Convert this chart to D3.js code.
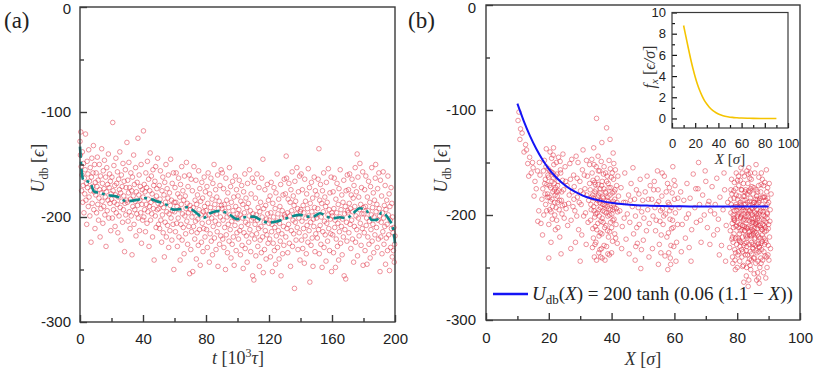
<!DOCTYPE html>
<html><head><meta charset="utf-8">
<script src="https://cdn.jsdelivr.net/npm/d3@7"></script>
<style>body{margin:0;background:#fff}svg{display:block}</style>
</head><body>
<svg id="c" width="830" height="378"></svg>
<script>
// ---------- DATA ----------
// Panel (a): U_db samples, evenly spaced in time over [0,200] (10^3 tau)
const scatterA_tRange = [0, 200];
const scatterA_U = [
-128,-141,-119,-152,-175,-160,-138,-186,-170,-149,-196,-163,-178,-155,-121,-184,-168,-207,-147,-172,-159,-190,-136,-181,-166,-199,-153,-175,-224,-162,-144,-187,-171,-158,-132,-193,-176,-150,-211,-167,
-179,-158,-196,-171,-143,-188,-165,-203,-182,-150,-174,-219,-161,-192,-177,-135,-185,-168,-206,-156,-190,-173,-146,-198,-181,-162,-228,-176,-153,-194,-169,-184,-140,-201,-172,-159,-187,-166,-213,-178,
-183,-162,-201,-110,-175,-193,-151,-186,-170,-209,-179,-144,-196,-168,-188,-157,-215,-181,-164,-199,-174,-138,-191,-177,-222,-160,-185,-171,-205,-149,-193,-180,-166,-233,-187,-155,-198,-172,-184,-129,
-186,-165,-204,-177,-148,-195,-172,-211,-183,-158,-199,-175,-236,-162,-190,-180,-141,-207,-169,-193,-185,-153,-218,-176,-197,-167,-189,-125,-201,-179,-160,-213,-184,-171,-196,-150,-225,-188,-174,-203,
-181,-118,-200,-169,-193,-176,-214,-158,-188,-172,-206,-147,-195,-183,-164,-228,-190,-175,-139,-203,-186,-161,-197,-178,-219,-155,-192,-170,-241,-184,-166,-199,-152,-210,-180,-173,-193,-144,-187,-207,
-192,-170,-211,-183,-156,-203,-188,-224,-175,-198,-162,-215,-191,-179,-238,-167,-205,-186,-150,-219,-195,-173,-208,-182,-160,-229,-197,-177,-213,-189,-145,-201,-184,-222,-168,-194,-207,-158,-250,-186,
-195,-172,-214,-186,-158,-206,-190,-228,-178,-201,-163,-219,-193,-181,-241,-169,-207,-188,-152,-222,-197,-175,-210,-184,-235,-161,-199,-180,-216,-192,-148,-204,-187,-226,-171,-196,-209,-160,-254,-189,
-193,-231,-164,-214,-200,-175,-252,-191,-209,-152,-196,-221,-184,-204,-165,-240,-188,-215,-179,-202,-227,-156,-193,-212,-173,-246,-185,-198,-224,-167,-206,-182,-233,-195,-211,-162,-190,-219,-176,-199,
-194,-212,-171,-229,-187,-158,-205,-198,-243,-178,-216,-191,-163,-223,-201,-183,-236,-168,-209,-195,-150,-220,-188,-204,-174,-231,-197,-181,-214,-160,-247,-192,-207,-185,-226,-170,-200,-218,-155,-189,
-192,-158,-221,-203,-173,-229,-188,-210,-195,-250,-163,-217,-184,-200,-234,-177,-207,-191,-223,-153,-198,-212,-171,-239,-186,-204,-226,-166,-194,-219,-181,-246,-201,-208,-161,-190,-232,-174,-215,-197,
-202,-180,-221,-193,-165,-213,-198,-236,-185,-209,-170,-227,-201,-188,-249,-176,-215,-196,-159,-230,-205,-182,-218,-191,-243,-168,-207,-187,-224,-199,-155,-212,-194,-233,-178,-203,-217,-163,-256,-197,
-201,-260,-167,-221,-207,-182,-237,-198,-216,-159,-203,-228,-191,-211,-172,-247,-195,-222,-186,-209,-234,-163,-200,-219,-145,-253,-192,-205,-231,-174,-213,-189,-240,-202,-217,-169,-197,-225,-184,-206,
-203,-221,-180,-238,-196,-167,-214,-207,-252,-187,-225,-200,-172,-232,-210,-192,-245,-177,-218,-204,-159,-229,-197,-213,-183,-240,-206,-190,-223,-169,-256,-201,-216,-194,-235,-179,-209,-227,-164,-198,
-200,-178,-219,-142,-163,-211,-196,-234,-183,-207,-168,-225,-199,-186,-247,-174,-213,-194,-157,-228,-203,-180,-216,-189,-268,-166,-205,-185,-222,-197,-153,-210,-192,-231,-176,-201,-215,-161,-241,-195,
-193,-159,-222,-204,-174,-230,-189,-211,-196,-244,-164,-218,-185,-201,-235,-178,-208,-192,-224,-154,-199,-213,-172,-262,-187,-205,-227,-167,-195,-220,-182,-247,-202,-209,-162,-191,-233,-175,-216,-198,
-201,-179,-220,-192,-164,-212,-135,-235,-184,-208,-169,-226,-200,-187,-248,-175,-214,-195,-158,-229,-204,-181,-217,-190,-242,-167,-206,-186,-223,-198,-154,-211,-193,-232,-177,-202,-216,-162,-252,-196,
-199,-217,-176,-234,-192,-163,-210,-203,-248,-183,-221,-196,-168,-228,-206,-188,-241,-173,-214,-200,-155,-225,-193,-209,-179,-236,-202,-186,-219,-165,-256,-197,-212,-190,-259,-175,-205,-223,-160,-194,
-196,-174,-215,-187,-159,-207,-192,-230,-179,-203,-164,-221,-195,-182,-243,-170,-209,-190,-153,-224,-199,-176,-212,-140,-237,-162,-201,-181,-218,-193,-149,-206,-188,-227,-172,-197,-211,-157,-246,-191,
-197,-215,-174,-232,-190,-161,-208,-201,-245,-181,-219,-194,-166,-226,-204,-186,-239,-171,-212,-198,-153,-223,-191,-207,-177,-234,-200,-184,-217,-163,-150,-195,-210,-188,-229,-173,-203,-221,-158,-192,
-199,-252,-165,-219,-205,-180,-235,-196,-214,-157,-201,-226,-189,-209,-170,-245,-193,-220,-184,-207,-232,-161,-198,-217,-178,-251,-190,-203,-229,-172,-211,-187,-238,-200,-215,-232,-210,-243,-226,-218
];
// Panel (a): running mean (dashed)
const meanA_t = [0,1,2.1,6.3,9.1,12.7,16.9,23.3,29.6,36,42.3,48.7,55,59.3,63.5,67.7,74.1,78.3,82.5,88.9,95.2,99.5,103.7,110,116.4,120.6,124.9,131.2,135.4,139.7,143.9,148.1,152.4,156.6,160.8,165,169.3,173.5,177.7,182,185.2,188.3,191.5,195.7,198.9,200];
const meanA_U = [-133,-155,-165,-167,-176,-177,-179,-180.5,-185,-183.7,-182,-185,-188.5,-193,-192.6,-190.7,-196.4,-201,-196.4,-194.2,-198,-202,-200.5,-199.6,-204.3,-205.3,-204.3,-201.2,-199,-198,-199.6,-199.6,-196.4,-199.6,-201.2,-200.2,-201.2,-196.4,-191.6,-194,-202.8,-202.8,-195.8,-201.2,-212,-225];

// Panel (b): scatter [X, U_db]
const scatterB = [
[10.2,-110],[10.8,-128],[11.5,-122],[12.1,-140],[12.6,-133],[13.3,-151],[13.9,-145],[14.4,-160],[15.0,-155],[15.6,-168],[11.0,-118],[12.9,-138],[14.8,-150],[16.0,-175],[10.5,-102],[13.6,-163],[15.3,-182],[16.4,-158],
[17.2,-162],[18.1,-175],[18.6,-148],[19.0,-190],[19.4,-171],[19.8,-156],[20.1,-183],[20.4,-140],[20.7,-197],[21.0,-168],[21.3,-178],[21.6,-152],[21.9,-188],[22.2,-163],[22.5,-205],[22.8,-172],[23.1,-145],[23.4,-186],[23.8,-160],[24.2,-199],[24.7,-176],[25.2,-154],[17.8,-185],[18.4,-200],[18.9,-166],[19.2,-137],[19.6,-180],[20.0,-209],[20.3,-158],[20.6,-174],[20.9,-146],[21.2,-192],[21.5,-165],[21.8,-176],[22.1,-214],[22.4,-150],[22.7,-182],[23.0,-168],[23.3,-195],[23.7,-157],[24.1,-178],[24.5,-142],[25.0,-190],[17.5,-208],[18.3,-158],[18.8,-180],[19.3,-196],[19.7,-162],[20.2,-172],[20.5,-187],[20.8,-159],[21.1,-204],[21.4,-143],[21.7,-170],[22.0,-181],[22.3,-193],[22.6,-161],[22.9,-212],[23.2,-177],[23.6,-149],[24.0,-186],[24.4,-167],[24.9,-203],[18.0,-219],[19.1,-154],[19.9,-164],[20.7,-226],[21.5,-136],[22.2,-174],[23.5,-221],[24.3,-191],[25.4,-168],[16.8,-196],[17.0,-150],[21.0,-185],[21.9,-200],[20.3,-195],[19.5,-183],[22.8,-188],[18.7,-170],[23.9,-237],[20.0,-241],[16.5,-206],[21.3,-160],[22.5,-178],
[25.8,-172],[26.3,-189],[26.7,-151],[27.1,-205],[27.5,-178],[27.9,-162],[28.3,-196],[28.7,-144],[29.1,-183],[29.5,-214],[29.9,-168],[30.3,-190],[30.7,-157],[31.1,-201],[31.5,-175],[31.9,-228],[32.3,-163],[32.7,-186],[26.0,-210],[26.9,-166],[27.7,-192],[28.5,-226],[29.3,-150],[30.1,-177],[30.9,-138],[31.7,-198],[32.5,-207],[26.5,-181],[27.3,-147],[28.1,-173],[28.9,-201],[29.7,-188],[30.5,-219],[31.3,-162],[32.1,-181],[25.5,-194],[27.0,-232],[28.0,-185],[29.0,-165],[30.0,-244],[31.0,-180],[32.0,-148],[33.0,-170],
[33.2,-176],[33.5,-195],[33.8,-160],[34.0,-213],[34.2,-184],[34.4,-152],[34.6,-202],[34.8,-171],[35.0,-226],[35.2,-189],[35.4,-165],[35.6,-208],[35.8,-181],[36.0,-195],[36.2,-158],[36.4,-217],[36.6,-186],[36.8,-172],[37.0,-203],[37.2,-190],[37.4,-161],[37.6,-229],[37.8,-197],[38.0,-178],[38.2,-210],[38.4,-168],[38.6,-192],[38.8,-183],[39.0,-221],[39.2,-174],[39.4,-200],[39.6,-156],[39.8,-189],[40.0,-212],[40.2,-179],[40.4,-195],[40.6,-166],[40.8,-204],[41.0,-185],[41.3,-222],[41.6,-172],[41.9,-197],
[33.3,-205],[33.6,-183],[33.9,-231],[34.1,-167],[34.3,-192],[34.5,-240],[34.7,-178],[34.9,-199],[35.1,-154],[35.3,-214],[35.5,-186],[35.7,-171],[35.9,-236],[36.1,-201],[36.3,-179],[36.5,-193],[36.7,-149],[36.9,-218],[37.1,-183],[37.3,-207],[37.5,-175],[37.7,-190],[37.9,-243],[38.1,-160],[38.3,-198],[38.5,-186],[38.7,-215],[38.9,-170],[39.1,-194],[39.3,-238],[39.5,-181],[39.7,-207],[39.9,-164],[40.1,-199],[40.3,-225],[40.5,-187],[40.7,-151],[40.9,-193],[41.1,-176],[41.4,-209],[41.7,-188],[42.0,-163],
[33.4,-190],[33.7,-147],[34.0,-181],[34.2,-222],[34.4,-196],[34.6,-169],[34.8,-211],[35.0,-176],[35.2,-243],[35.4,-198],[35.6,-183],[35.8,-158],[36.0,-220],[36.2,-188],[36.4,-175],[36.6,-206],[36.8,-232],[37.0,-168],[37.2,-196],[37.4,-184],[37.6,-154],[37.8,-212],[38.0,-191],[38.2,-179],[38.4,-230],[38.6,-163],[38.8,-201],[39.0,-187],[39.2,-148],[39.4,-216],[39.6,-195],[39.8,-174],[40.0,-236],[40.2,-160],[40.4,-205],[40.6,-190],[40.8,-178],[41.0,-218],[41.2,-157],[41.5,-194],[41.8,-227],[42.2,-182],
[35.2,-108],[38.4,-117],[36.5,-240],[37.0,-241],[38.8,-237],[34.3,-136],[36.9,-131],[39.5,-128],[33.0,-152],[35.7,-144],[40.5,-141],[34.7,-228],[36.3,-233],
[42.6,-196],[43.0,-174],[43.4,-211],[43.8,-188],[44.2,-160],[44.6,-223],[45.0,-199],[45.4,-181],[45.8,-207],[46.2,-170],[46.6,-192],[47.0,-218],[47.3,-185],[47.6,-201],[47.9,-176],[48.2,-227],[48.5,-193],[48.8,-209],[49.1,-166],[49.5,-233],[49.9,-186],[50.3,-203],[50.7,-178],[51.1,-215],[51.5,-195],[51.9,-240],[52.3,-172],[43.2,-232],[44.4,-188],[45.6,-237],[46.8,-155],[47.5,-243],[48.0,-212],[48.7,-180],[49.3,-251],[50.1,-224],[51.3,-163],[52.0,-208],[44.0,-203],[46.0,-186],[47.7,-230],[49.6,-197],[51.7,-185],
[52.8,-185],[53.2,-201],[53.6,-168],[54.0,-215],[54.4,-190],[54.8,-176],[55.2,-228],[55.6,-196],[56.0,-182],[56.4,-209],[56.8,-163],[57.2,-199],[57.6,-221],[58.0,-188],[58.2,-236],[58.4,-174],[58.6,-204],[58.8,-247],[59.0,-193],[59.3,-179],[59.6,-212],[59.9,-167],[60.3,-198],[60.7,-226],[61.1,-184],[53.0,-232],[53.8,-193],[54.6,-158],[55.4,-206],[56.2,-194],[57.0,-239],[57.8,-170],[58.1,-217],[58.5,-196],[58.9,-229],[59.4,-205],[60.0,-185],[60.5,-244],[61.0,-209],[53.4,-176],[54.2,-205],[55.0,-187],[55.8,-219],[56.6,-201],[57.4,-178],[58.3,-190],[58.7,-241],[59.1,-213],[59.8,-230],[60.2,-172],[54.9,-247],[57.9,-252],[56.1,-160],[59.5,-154],[55.7,-236],
[61.5,-193],[62.0,-178],[62.5,-209],[63.0,-186],[63.5,-222],[64.0,-170],[64.5,-199],[65.0,-184],[65.5,-214],[66.0,-161],[66.5,-193],[67.0,-207],[67.5,-175],[68.0,-190],[68.5,-226],[69.0,-181],[69.5,-200],[70.0,-168],[70.5,-212],[71.0,-187],[71.5,-196],[72.0,-173],[72.5,-219],[73.0,-190],[73.5,-165],[74.0,-204],[74.5,-183],[75.0,-229],[75.5,-195],[76.0,-176],[76.5,-210],[77.0,-188],[62.2,-235],[63.8,-203],[65.3,-244],[66.8,-175],[68.3,-205],[69.8,-158],[71.3,-228],[72.8,-199],[74.3,-238],[75.8,-160],[64.7,-231],[67.7,-150],[70.7,-190],[73.7,-214],[76.3,-244],
[78.0,-198],[78.5,-221],[79.0,-184],[79.5,-236],[80.0,-207],[80.5,-172],[81.0,-215],[81.5,-193],[82.0,-248],[82.5,-186],[83.0,-226],[83.5,-201],[84.0,-165],[84.5,-219],[85.0,-190],[85.5,-241],[86.0,-209],[86.5,-178],[87.0,-230],[87.5,-196],[88.0,-214],[88.5,-183],[89.0,-224],[89.5,-203],[90.0,-188],
[77.8,-215],[78.3,-180],[78.8,-203],[79.3,-192],[79.8,-228],[80.3,-199],[80.8,-244],[81.3,-176],[81.8,-210],[82.3,-163],[82.8,-205],[83.3,-238],[83.8,-190],[84.3,-252],[84.8,-207],[85.3,-174],[85.8,-222],[86.3,-195],[86.8,-260],[87.3,-184],[87.8,-233],[88.3,-200],[88.8,-169],[89.3,-215],[89.8,-238],
[78.1,-190],[78.6,-246],[79.1,-169],[79.6,-211],[80.1,-185],[80.6,-224],[81.1,-202],[81.6,-160],[82.1,-229],[82.6,-196],[83.1,-212],[83.6,-177],[84.1,-235],[84.6,-193],[85.1,-218],[85.6,-160],[86.1,-199],[86.6,-228],[87.1,-205],[87.6,-171],[88.1,-243],[88.6,-210],[89.1,-186],[89.6,-199],[90.3,-221],
[78.4,-208],[78.9,-177],[79.4,-252],[79.9,-196],[80.4,-163],[80.9,-190],[81.4,-233],[81.9,-205],[82.4,-182],[82.9,-258],[83.4,-170],[83.9,-219],[84.4,-198],[84.9,-231],[85.4,-188],[85.9,-246],[86.4,-213],[86.9,-164],[87.4,-222],[87.9,-190],[88.4,-255],[88.9,-201],[89.4,-178],[89.9,-213],[90.5,-195],
[77.6,-231],[78.2,-166],[78.7,-226],[79.2,-205],[79.7,-181],[80.2,-238],[80.7,-193],[81.2,-155],[81.7,-221],[82.2,-199],[82.7,-176],[83.2,-213],[83.7,-262],[84.2,-184],[84.7,-173],[85.2,-203],[85.7,-229],[86.2,-182],[86.7,-210],[87.2,-250],[87.7,-160],[88.2,-197],[88.7,-228],[89.2,-207],[89.7,-174],
[78.6,-193],[79.0,-218],[79.5,-175],[80.0,-250],[80.5,-212],[81.0,-188],[81.5,-240],[82.0,-170],[82.5,-215],[83.0,-193],[83.5,-161],[84.0,-206],[84.5,-243],[85.0,-228],[85.5,-197],[86.0,-176],[86.5,-255],[87.0,-186],[87.5,-212],[88.0,-166],[88.5,-235],[89.0,-193],[89.5,-250],[90.0,-209],[90.8,-180],
[77.9,-185],[78.5,-240],[79.1,-203],[79.7,-160],[80.3,-222],[80.9,-209],[81.5,-176],[82.1,-264],[82.7,-220],[83.3,-188],[83.9,-242],[84.5,-166],[85.1,-232],[85.7,-208],[86.3,-236],[86.9,-199],[87.5,-241],[88.1,-183],[88.7,-216],[89.3,-157],[89.9,-229],[80.6,-198],[83.6,-205],[85.4,-213],[87.8,-204],
[78.3,-223],[79.0,-196],[79.8,-210],[80.5,-182],[81.2,-226],[81.9,-195],[82.6,-238],[83.3,-220],[84.0,-178],[84.7,-214],[85.4,-256],[86.1,-190],[86.8,-221],[87.5,-178],[88.2,-209],[88.9,-239],[89.6,-190],[90.4,-206],[81.7,-249],[83.1,-158],[84.9,-194],[86.6,-244],[88.4,-172],[80.1,-167],[82.9,-234],
[78.8,-212],[79.6,-190],[80.4,-235],[81.1,-203],[81.8,-186],[82.4,-211],[83.0,-250],[83.7,-196],[84.3,-220],[85.0,-180],[85.6,-216],[86.2,-262],[86.9,-188],[87.6,-227],[88.3,-193],[89.0,-212],[89.7,-184],[79.3,-243],[81.0,-167],[82.8,-201],[84.6,-237],[86.4,-201],[88.0,-225],[89.4,-240],[90.6,-232],
[78.0,-176],[79.2,-233],[80.8,-225],[81.6,-210],[82.2,-193],[83.2,-180],[84.1,-248],[84.8,-200],[85.8,-185],[86.5,-219],[87.2,-197],[88.6,-205],[89.1,-260],[80.0,-192],[82.5,-178],[83.8,-228],[85.2,-241],[86.8,-172],[88.8,-183],[90.2,-170],[81.4,-200],[83.5,-268],[86.0,-152],[84.2,-160],[87.0,-265],
[82.1,-204],[82.6,-190],[83.1,-222],[83.6,-211],[84.1,-196],[84.6,-226],[85.1,-207],[85.6,-192],[86.1,-217],[86.6,-203],[87.1,-231],[82.3,-215],[83.4,-199],[84.4,-212],[85.5,-223],[86.4,-185],[87.3,-210],[83.0,-230],[84.0,-187],[85.0,-215],[86.0,-234],[81.5,-214],[80.7,-218],[88.0,-219],[79.5,-222],
[80.2,-201],[81.3,-191],[82.4,-227],[83.5,-245],[84.6,-204],[85.7,-202],[86.7,-227],[87.8,-214],[88.5,-222],[89.5,-198],[79.0,-205],[80.9,-230],[82.0,-182],[83.9,-216],[85.3,-188],[86.3,-207],[87.6,-246],[89.2,-226],[90.1,-243],[84.3,-175],[81.8,-235],[83.7,-155],[86.9,-235],[85.9,-208],[78.7,-200]
];
// Panel (b): fitted curve (blue)
const fitB_X = [10,12,14,16,18,20,22,24,26,28,30,32,35,38,41,44,48,52,56,60,65,70,75,80,85,90];
const fitB_U = [-94,-110.3,-124.6,-136.9,-147.3,-156,-163.1,-168.9,-173.6,-177.3,-180.3,-182.8,-185.5,-187.5,-188.9,-189.8,-190.6,-191.1,-191.5,-191.7,-191.8,-192,-192,-192,-192,-192];
// Inset: force f_x
const inset_X = [10,12,14,16,18,20,22,24,26,28,30,32,35,38,41,44,48,52,56,60,65,70,80,90];
const inset_F = [8.77,7.72,6.67,5.66,4.74,3.92,3.21,2.61,2.11,1.69,1.36,1.08,0.76,0.54,0.37,0.26,0.165,0.10,0.065,0.04,0.02,0.01,0,0];

const ticksA_X = [0,40,80,120,160,200], ticksA_Xminor = [20,60,100,140,180];
const ticksU = [0,-100,-200,-300], ticksUminor = [-50,-150,-250];
const ticksB_X = [0,20,40,60,80,100], ticksB_Xminor = [10,30,50,70,90];
const insetTicksX = [0,20,40,60,80,100], insetTicksXminor = [10,30,50,70,90];
const insetTicksY = [0,2,4,6,8,10], insetTicksYminor = [1,3,5,7,9];

// ---------- DRAW ----------
const svg = d3.select("#c");
const SANS = "'Liberation Sans', Arial, sans-serif";
const SERIF = "'Liberation Serif', 'DejaVu Serif', serif";
const DOT = "#e02c40";
const FRAME = "#3a3a3a";

function axes(g, x, y, o) {
  const [x0, x1] = x.range(), [y1, y0] = y.range();
  g.append("g").attr("transform", `translate(0,${y1})`)
    .call(d3.axisBottom(x).tickValues(o.xMinor).tickSize(-o.minor).tickFormat(""))
    .call(a => a.select(".domain").remove());
  g.append("g").attr("transform", `translate(${x0},0)`)
    .call(d3.axisLeft(y).tickValues(o.yMinor).tickSize(-o.minor).tickFormat(""))
    .call(a => a.select(".domain").remove());
  g.append("g").attr("transform", `translate(0,${y1})`)
    .call(d3.axisBottom(x).tickValues(o.xMajor).tickSize(-o.major).tickPadding(o.xPad).tickFormat(d3.format("d")))
    .call(a => a.select(".domain").remove());
  const ya = g.append("g").attr("transform", `translate(${x0},0)`)
    .call(d3.axisLeft(y).tickValues(o.yMajor).tickSize(-o.major).tickPadding(o.yPad).tickFormat(d => String(d)))
    .call(a => a.select(".domain").remove());
  if (o.topNudge) ya.selectAll(".tick").filter(d => d === y.domain()[1]).select("text").attr("y", o.topNudge);
  g.selectAll(".tick line").attr("stroke", FRAME).attr("stroke-width", o.sw);
  g.selectAll(".tick text").attr("font-family", SANS).attr("font-size", o.fs).attr("fill", "#222");
  g.append("rect").attr("x", x0).attr("y", y0).attr("width", x1 - x0).attr("height", y1 - y0)
    .attr("fill", "none").attr("stroke", FRAME).attr("stroke-width", o.sw);
}

function uLabel(g, cx, cy) {
  const t = g.append("text").attr("transform", `translate(${cx},${cy}) rotate(-90)`)
    .attr("text-anchor", "middle").attr("font-family", SERIF).attr("font-size", 18).attr("fill", "#333");
  t.append("tspan").attr("font-style", "italic").text("U");
  t.append("tspan").attr("font-size", 12).attr("dy", 4).text("db");
  t.append("tspan").attr("dy", -4).text(" [");
  t.append("tspan").attr("font-style", "italic").text("ϵ");
  t.append("tspan").text("]");
}

function dots(g, data, fx, fy) {
  g.append("g").selectAll("circle").data(data).join("circle")
    .attr("cx", fx).attr("cy", fy).attr("r", 2.3)
    .attr("fill", "none").attr("stroke", DOT).attr("stroke-opacity", 0.5).attr("stroke-width", 1);
}

// ---- Panel (a)
{
  const g = svg.append("g");
  const x = d3.scaleLinear().domain([0, 200]).range([80, 395]);
  const y = d3.scaleLinear().domain([-300, 0]).range([322, 7]);
  const step = (scatterA_tRange[1] - scatterA_tRange[0]) / (scatterA_U.length - 1);
  dots(g, scatterA_U, (d, i) => x(scatterA_tRange[0] + i * step), d => y(d));
  const line = d3.line().x((d, i) => x(meanA_t[i])).y(d => y(d)).curve(d3.curveMonotoneX);
  g.append("path").attr("d", line(meanA_U)).attr("fill", "none").attr("stroke", "#0a8a8a")
    .attr("stroke-width", 2.6).attr("stroke-dasharray", "11,4,3,4");
  axes(g, x, y, {xMajor: ticksA_X, xMinor: ticksA_Xminor, yMajor: ticksU, yMinor: ticksUminor,
    major: 7, minor: 4, xPad: 11, yPad: 9, fs: 15, sw: 1.4, topNudge: 1.5});
  uLabel(g, 44, 168);
  const t = g.append("text").attr("x", 238).attr("y", 364).attr("text-anchor", "middle")
    .attr("font-family", SERIF).attr("font-size", 18).attr("fill", "#333");
  t.append("tspan").attr("font-style", "italic").text("t");
  t.append("tspan").text(" [10");
  t.append("tspan").attr("font-size", 12).attr("dy", -7).text("3");
  t.append("tspan").attr("dy", 7).attr("font-style", "italic").text("τ");
  t.append("tspan").text("]");
  svg.append("text").attr("x", 4).attr("y", 28).attr("font-family", SERIF).attr("font-size", 23).attr("fill", "#222").text("(a)");
}

// ---- Panel (b)
{
  const g = svg.append("g");
  const x = d3.scaleLinear().domain([0, 100]).range([486, 800]);
  const y = d3.scaleLinear().domain([-300, 0]).range([320, 5]);
  dots(g, scatterB, d => x(d[0]), d => y(d[1]));
  const line = d3.line().x((d, i) => x(fitB_X[i])).y(d => y(d)).curve(d3.curveMonotoneX);
  g.append("path").attr("d", line(fitB_U)).attr("fill", "none").attr("stroke", "#1414f5").attr("stroke-width", 2);
  axes(g, x, y, {xMajor: ticksB_X, xMinor: ticksB_Xminor, yMajor: ticksU, yMinor: ticksUminor,
    major: 7, minor: 4, xPad: 12, yPad: 10, fs: 15, sw: 1.4, topNudge: 2.5});
  uLabel(g, 447, 168);
  const t = g.append("text").attr("x", 643).attr("y", 365).attr("text-anchor", "middle")
    .attr("font-family", SERIF).attr("font-size", 18).attr("fill", "#333");
  t.append("tspan").attr("font-style", "italic").text("X");
  t.append("tspan").text(" [");
  t.append("tspan").attr("font-style", "italic").text("σ");
  t.append("tspan").text("]");
  svg.append("text").attr("x", 408).attr("y", 28).attr("font-family", SERIF).attr("font-size", 23).attr("fill", "#222").text("(b)");

  // legend
  g.append("line").attr("x1", 493).attr("x2", 528).attr("y1", 294).attr("y2", 294).attr("stroke", "#1414f5").attr("stroke-width", 2.5);
  const lt = g.append("text").attr("x", 532).attr("y", 300).attr("font-family", SERIF).attr("font-size", 19).attr("fill", "#222");
  lt.append("tspan").attr("font-style", "italic").text("U");
  lt.append("tspan").attr("font-size", 13).attr("dy", 4).text("db");
  lt.append("tspan").attr("dy", -4).text("(");
  lt.append("tspan").attr("font-style", "italic").text("X");
  lt.append("tspan").text(") = 200 tanh (0.06 (1.1 − ");
  lt.append("tspan").attr("font-style", "italic").text("X");
  lt.append("tspan").text("))");

  // inset
  const ig = svg.append("g");
  ig.append("rect").attr("x", 672).attr("y", 12.5).attr("width", 116).attr("height", 115.5).attr("fill", "#fff");
  const ix = d3.scaleLinear().domain([0, 100]).range([672, 788]);
  const iy = d3.scaleLinear().domain([-0.9, 10]).range([128, 12.5]);
  const il = d3.line().x((d, i) => ix(inset_X[i])).y(d => iy(d)).curve(d3.curveMonotoneX);
  ig.append("path").attr("d", il(inset_F)).attr("fill", "none").attr("stroke", "#f5c400").attr("stroke-width", 1.6);
  axes(ig, ix, iy, {xMajor: insetTicksX, xMinor: insetTicksXminor, yMajor: insetTicksY, yMinor: insetTicksYminor,
    major: 5, minor: 3, xPad: 11, yPad: 6, fs: 13, sw: 1.2});
  ig.selectAll(".tick line").attr("stroke", "#111");
  const xt = ig.append("text").attr("x", 730).attr("y", 164).attr("text-anchor", "middle")
    .attr("font-family", SERIF).attr("font-size", 15).attr("fill", "#333");
  xt.append("tspan").attr("font-style", "italic").text("X");
  xt.append("tspan").text(" [");
  xt.append("tspan").attr("font-style", "italic").text("σ");
  xt.append("tspan").text("]");
  const yt = ig.append("text").attr("transform", "translate(655,67) rotate(-90)").attr("text-anchor", "middle")
    .attr("font-family", SERIF).attr("font-size", 16).attr("fill", "#333");
  yt.append("tspan").attr("font-style", "italic").text("f");
  yt.append("tspan").attr("font-style", "italic").attr("font-size", 11).attr("dy", 3).text("x");
  yt.append("tspan").attr("dy", -3).text(" [");
  yt.append("tspan").attr("font-style", "italic").text("ϵ/σ");
  yt.append("tspan").text("]");
}
</script>
</body></html>
